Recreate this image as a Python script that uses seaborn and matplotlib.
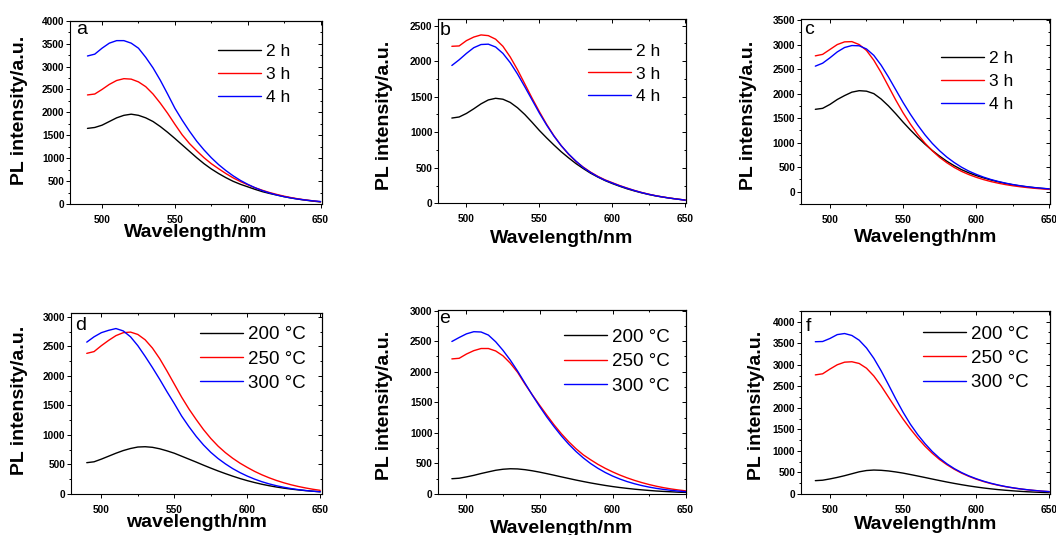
import matplotlib
matplotlib.use("Agg")
import matplotlib.pyplot as plt
import seaborn as sns
import pandas as pd
from matplotlib.ticker import MultipleLocator

# ---------------- data ----------------
WAVELENGTH = list(range(490, 655, 5))  # nm

TIME_LABELS = ["2 h", "3 h", "4 h"]
TEMP_LABELS = ["200 \u00b0C", "250 \u00b0C", "300 \u00b0C"]
PANEL_LETTERS = ["a", "b", "c", "d", "e", "f"]

a_2h = [1650, 1670, 1720, 1800, 1880, 1935, 1960, 1935, 1880, 1800, 1690, 1565, 1430, 1290, 1150, 1010,
        880, 765, 665, 575, 495, 430, 375, 320, 270, 230, 195, 160, 130, 105, 82, 62, 45]
a_3h = [2380, 2400, 2500, 2610, 2695, 2735, 2725, 2665, 2560, 2400, 2200, 1980, 1740, 1510, 1320, 1160,
        1010, 880, 770, 665, 570, 490, 420, 355, 300, 250, 208, 170, 138, 110, 88, 68, 50]
a_4h = [3230, 3270, 3400, 3510, 3565, 3565, 3510, 3400, 3200, 2970, 2700, 2400, 2090, 1830, 1590, 1370,
        1180, 1010, 860, 730, 615, 515, 430, 355, 292, 240, 196, 160, 130, 105, 85, 68, 54]

b_2h = [1200, 1215, 1265, 1330, 1400, 1455, 1478, 1465, 1420, 1345, 1250, 1140, 1025, 920, 820, 725,
        640, 560, 490, 425, 370, 320, 278, 240, 205, 175, 148, 124, 103, 86, 71, 58, 46]
b_3h = [2210, 2215, 2290, 2340, 2370, 2360, 2310, 2210, 2060, 1880, 1680, 1480, 1290, 1110, 950, 810,
        690, 590, 510, 440, 380, 330, 290, 250, 215, 182, 153, 128, 106, 88, 72, 58, 45]
b_4h = [1940, 2020, 2110, 2190, 2235, 2240, 2200, 2110, 1980, 1820, 1640, 1455, 1270, 1100, 945, 810,
        695, 595, 505, 435, 375, 325, 285, 246, 212, 180, 151, 126, 105, 87, 71, 57, 44]

c_2h = [1680, 1700, 1780, 1880, 1960, 2030, 2060, 2050, 2000, 1890, 1750, 1590, 1420, 1260, 1110, 970,
        840, 725, 620, 530, 450, 385, 330, 283, 240, 203, 170, 142, 118, 98, 82, 68, 56]
c_3h = [2770, 2800, 2900, 3000, 3055, 3060, 3000, 2880, 2680, 2430, 2150, 1870, 1610, 1380, 1170, 990,
        835, 700, 590, 495, 415, 350, 295, 248, 208, 175, 146, 122, 102, 85, 70, 58, 48]
c_4h = [2560, 2620, 2730, 2850, 2940, 2980, 2975, 2910, 2780, 2580, 2340, 2080, 1820, 1580, 1360, 1160,
        985, 835, 705, 595, 500, 420, 355, 298, 250, 210, 176, 147, 123, 102, 85, 71, 58]

d_200 = [530, 545, 590, 640, 690, 735, 770, 795, 800, 790, 765, 730, 690, 640, 590, 540,
         488, 438, 390, 345, 302, 262, 226, 194, 165, 140, 118, 99, 83, 69, 57, 47, 38]
d_250 = [2380, 2410, 2510, 2600, 2680, 2730, 2740, 2700, 2610, 2470, 2290, 2080, 1860, 1640, 1440, 1260,
         1090, 940, 810, 700, 605, 522, 450, 383, 325, 274, 229, 190, 156, 127, 102, 80, 62]
d_300 = [2570, 2660, 2730, 2770, 2800, 2760, 2660, 2510, 2330, 2140, 1940, 1730, 1530, 1320, 1140, 975,
         830, 705, 600, 510, 430, 362, 303, 252, 208, 171, 140, 114, 92, 74, 59, 47, 37]

e_200 = [250, 258, 280, 305, 335, 362, 388, 405, 413, 410, 398, 380, 358, 333, 307, 280,
         254, 228, 204, 181, 160, 140, 122, 106, 92, 79, 68, 58, 49, 42, 36, 30, 26]
e_250 = [2210, 2220, 2290, 2345, 2380, 2380, 2340, 2260, 2140, 1990, 1800, 1625, 1455, 1290, 1130, 985,
         855, 740, 640, 560, 485, 420, 362, 310, 264, 223, 187, 155, 127, 103, 83, 66, 52]
e_300 = [2495, 2560, 2620, 2655, 2650, 2600, 2490, 2350, 2190, 2010, 1815, 1620, 1435, 1260, 1100, 950,
         815, 695, 590, 498, 420, 352, 294, 245, 203, 168, 138, 113, 92, 75, 60, 48, 38]

f_200 = [310, 320, 350, 385, 425, 470, 515, 545, 556, 550, 535, 512, 485, 452, 418, 383,
         347, 312, 278, 246, 216, 188, 163, 140, 120, 102, 87, 74, 62, 52, 44, 37, 31]
f_250 = [2765, 2790, 2900, 3000, 3060, 3070, 3030, 2920, 2740, 2510, 2250, 1990, 1740, 1510, 1300, 1110,
         945, 800, 680, 575, 485, 410, 345, 290, 243, 204, 170, 142, 118, 98, 81, 67, 55]
f_300 = [3535, 3540, 3610, 3700, 3725, 3680, 3570, 3390, 3150, 2860, 2540, 2210, 1900, 1620, 1380, 1170,
         985, 830, 700, 590, 498, 420, 355, 298, 250, 209, 174, 145, 120, 99, 82, 67, 55]

COLORS = ["#000000", "#ff0000", "#0000ff"]

# ---------------- style ----------------
sns.set_style("ticks")
plt.rcParams["font.family"] = ["Liberation Sans", "DejaVu Sans"]
plt.rcParams["font.weight"] = "bold"
plt.rcParams["axes.linewidth"] = 0.8
plt.rcParams["axes.edgecolor"] = "black"
plt.rcParams["text.color"] = "black"
plt.rcParams["axes.labelcolor"] = "black"
plt.rcParams["xtick.color"] = "black"
plt.rcParams["ytick.color"] = "black"
plt.rcParams["legend.labelcolor"] = "black"

W, H = 1056, 535
fig = plt.figure(figsize=(W / 100, H / 100), dpi=100)
fig.patch.set_facecolor("white")

# layout: (left, top, right, bottom) in pixels plus per-panel text placement
panels = [
    dict(series=[a_2h, a_3h, a_4h], names=TIME_LABELS, rect=(70, 20.7, 322, 204),
         xlim=(478, 651), ylim=(0, 4000), xlabel="Wavelength/nm",
         ylab=(-0.200, 0.513), xlab=-0.153, leg=(0.588, 0.707), legfs=12.5, ls=0.45, lab=(6, 0.5)),
    dict(series=[b_2h, b_3h, b_4h], names=TIME_LABELS, rect=(438, 19.3, 686, 203.3),
         xlim=(480.5, 650.5), ylim=(0, 2590), xlabel="Wavelength/nm",
         ylab=(-0.216, 0.48), xlab=-0.189, leg=(0.605, 0.703), legfs=12.5, ls=0.45, lab=(1.3, 2.4)),
    dict(series=[c_2h, c_3h, c_4h], names=TIME_LABELS, rect=(800.7, 19.3, 1050, 204),
         xlim=(480, 650.5), ylim=(-250, 3515), xlabel="Wavelength/nm",
         ylab=(-0.211, 0.482), xlab=-0.184, leg=(0.564, 0.662), legfs=12.5, ls=0.45, lab=(3.3, 1.7)),
    dict(series=[d_200, d_250, d_300], names=TEMP_LABELS, rect=(70.7, 313.3, 321.7, 494),
         xlim=(479, 651), ylim=(0, 3058), xlabel="wavelength/nm",
         ylab=(-0.202, 0.52), xlab=-0.155, leg=(0.515, 0.747), legfs=13.5, ls=0.38, lab=(4.3, 3.4)),
    dict(series=[e_200, e_250, e_300], names=TEMP_LABELS, rect=(438, 310, 686.3, 494),
         xlim=(480.5, 650.5), ylim=(0, 3010), xlabel="Wavelength/nm",
         ylab=(-0.2155, 0.479), xlab=-0.185, leg=(0.506, 0.719), legfs=13.5, ls=0.38, lab=(1.3, 0.0)),
    dict(series=[f_200, f_250, f_300], names=TEMP_LABELS, rect=(800.7, 310.7, 1050, 494),
         xlim=(480, 650.5), ylim=(0, 4255), xlabel="Wavelength/nm",
         ylab=(-0.177, 0.481), xlab=-0.168, leg=(0.49, 0.74), legfs=13.5, ls=0.38, lab=(5, 7.6)),
]

for letter, p in zip(PANEL_LETTERS, panels):
    l, t, r, b = p["rect"]
    ax = fig.add_axes([l / W, 1 - b / H, (r - l) / W, (b - t) / H])
    ax.set_facecolor("white")

    for vals, name, col in zip(p["series"], p["names"], COLORS):
        df = pd.DataFrame({"wavelength": WAVELENGTH, "intensity": vals})
        sns.lineplot(data=df, x="wavelength", y="intensity", color=col, linewidth=1.0,
                     label=name, legend=False, errorbar=None, ax=ax)

    ax.set_xlim(*p["xlim"])
    ax.set_ylim(*p["ylim"])
    ax.xaxis.set_major_locator(MultipleLocator(50))
    ax.xaxis.set_minor_locator(MultipleLocator(25))
    ax.yaxis.set_major_locator(MultipleLocator(500))
    ax.yaxis.set_minor_locator(MultipleLocator(250))
    ax.tick_params(axis="both", which="both", direction="out", labelsize=7.3, width=0.7,
                   colors="black", top=False, right=False)
    ax.tick_params(axis="x", which="major", length=3, pad=5.0)
    ax.tick_params(axis="y", which="major", length=3, pad=1.0)
    ax.tick_params(axis="both", which="minor", length=1.6)
    for sp in ax.spines.values():
        sp.set_visible(True)
        sp.set_linewidth(0.8)
        sp.set_color("black")

    # inward ticks on the top and right frame
    sx = ax.secondary_xaxis("top")
    sx.xaxis.set_major_locator(MultipleLocator(50))
    sx.xaxis.set_minor_locator(MultipleLocator(25))
    sx.tick_params(which="both", direction="in", labeltop=False, width=0.7, colors="black")
    sx.tick_params(which="major", length=3)
    sx.tick_params(which="minor", length=1.6)
    sy = ax.secondary_yaxis("right")
    sy.yaxis.set_major_locator(MultipleLocator(500))
    sy.yaxis.set_minor_locator(MultipleLocator(250))
    sy.tick_params(which="both", direction="in", labelright=False, width=0.7, colors="black")
    sy.tick_params(which="major", length=3)
    sy.tick_params(which="minor", length=1.6)

    ax.set_xlabel(p["xlabel"], fontsize=14, fontweight="bold", va="center", ha="center", color="black")
    ax.set_ylabel("PL intensity/a.u.", fontsize=14, fontweight="bold", va="center", ha="center",
                  color="black")
    ax.xaxis.set_label_coords(0.5, p["xlab"])
    ax.yaxis.set_label_coords(p["ylab"][0], p["ylab"][1])

    fs = p["legfs"]
    ax.legend(loc="center left", bbox_to_anchor=p["leg"], frameon=False,
              prop={"size": fs, "weight": "normal"}, handlelength=43 / (fs * 100 / 72),
              handletextpad=0.28, labelspacing=p["ls"], borderpad=0, borderaxespad=0,
              labelcolor="black")

    dx, dy = p["lab"]
    ax.annotate(letter, xy=(0, 1), xycoords="axes fraction", xytext=(dx * 0.72, -dy * 0.72),
                textcoords="offset points", ha="left", va="top", fontsize=14,
                fontweight="normal", color="black")

fig.savefig("out.png", dpi=100, facecolor="white")
